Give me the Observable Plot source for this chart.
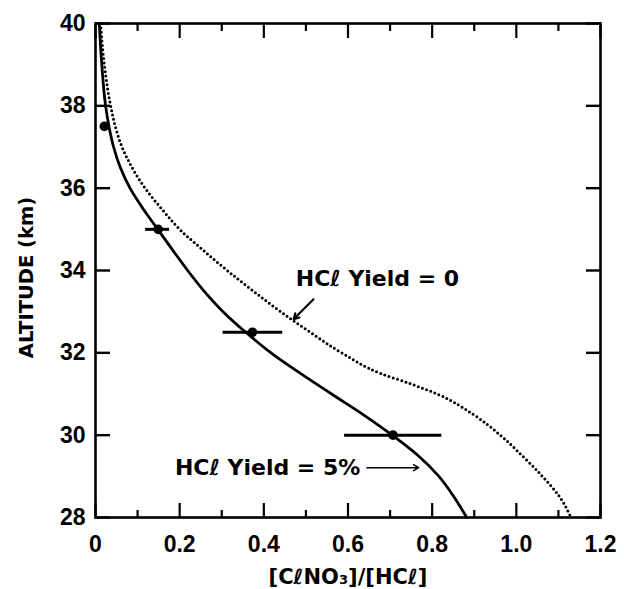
<!DOCTYPE html>
<html>
<head>
<meta charset="utf-8">
<script src="https://cdn.jsdelivr.net/npm/d3@7"></script>
<script src="https://cdn.jsdelivr.net/npm/@observablehq/plot@0.6"></script>
<style>
  html, body { margin: 0; padding: 0; background: #fff; }
  #chart svg { display: block; }
  g[aria-label="y-title"] text { letter-spacing: 1.4px; }
  g[aria-label="x-title"] text { letter-spacing: 0.6px; }
</style>
</head>
<body>
<div id="chart"></div>
<script>
// ---- Data ----
// Model curve, HCl yield = 5% (solid)
const yield5Alt   = [40, 39, 38, 37.5, 37, 36.5, 36, 35.5, 35, 34.5, 34, 33.5, 33, 32.5, 32, 31.5, 31, 30.5, 30, 29.5, 29, 28.5, 28];
const yield5Ratio = [0.009, 0.015, 0.024, 0.032, 0.043, 0.059, 0.082, 0.113, 0.148, 0.183, 0.219, 0.258, 0.303, 0.357, 0.417, 0.487, 0.561, 0.636, 0.705, 0.767, 0.816, 0.852, 0.882];
// Model curve, HCl yield = 0 (dotted)
const yield0Alt   = [40, 39, 38, 37.5, 37, 36.5, 36, 35.5, 35, 34.5, 34, 33.5, 33, 32.5, 32, 31.5, 31.25, 31, 30.5, 30, 29.5, 29, 28.5, 28];
const yield0Ratio = [0.012, 0.021, 0.036, 0.047, 0.063, 0.087, 0.118, 0.157, 0.2, 0.255, 0.313, 0.375, 0.44, 0.51, 0.585, 0.677, 0.748, 0.812, 0.898, 0.962, 1.014, 1.062, 1.103, 1.13];
// Measurements with error bars
const obsAlt   = [37.5, 35, 32.5, 30];
const obsRatio = [0.021, 0.149, 0.373, 0.707];
const obsLo    = [null, 0.119, 0.303, 0.592];
const obsHi    = [null, 0.176, 0.445, 0.823];
// Tick values
const xMajorTicks = [0, 0.2, 0.4, 0.6, 0.8, 1.0, 1.2];
const xMinorTicks = [0.1, 0.3, 0.5, 0.7, 0.9, 1.1];
const xTickLabels = ["0", "0.2", "0.4", "0.6", "0.8", "1.0", "1.2"];
const yTicks = [28, 30, 32, 34, 36, 38, 40];
// Annotations
const noteText = ["HCℓ Yield = 0", "HCℓ Yield = 5%"];
const noteX = [0.67, 0.409];
const noteY = [33.79, 29.21];
const arrowX1 = [0.518, 0.645];
const arrowY1 = [33.30, 29.21];
const arrowX2 = [0.471, 0.768];
const arrowY2 = [32.82, 29.21];
const arrowWidth = [2.2, 1.5];
const xTitle = "[CℓNO₃]/[HCℓ]";
const yTitle = "ALTITUDE (km)";

// ---- Build tables ----
const solid = yield5Alt.map((a, i) => ({alt: a, r: yield5Ratio[i]}));
const dotted = yield0Alt.map((a, i) => ({alt: a, r: yield0Ratio[i]}));
const obs = obsAlt.map((a, i) => ({alt: a, r: obsRatio[i], lo: obsLo[i], hi: obsHi[i]}));
const notes = noteText.map((t, i) => ({t, x: noteX[i], y: noteY[i]}));
const arrows = arrowX1.map((x1, i) => ({x1, y1: arrowY1[i], x2: arrowX2[i], y2: arrowY2[i], w: arrowWidth[i]}));

const tickFont = "'Liberation Sans', Arial, sans-serif";
const textFont = "'DejaVu Sans', sans-serif";

const chart = Plot.plot({
  width: 624,
  height: 589,
  marginLeft: 95,
  marginRight: 24,
  marginTop: 23,
  marginBottom: 72,
  style: {background: "white", color: "black"},
  x: {domain: [0, 1.2]},
  y: {domain: [28, 40]},
  marks: [
    // inward ticks
    Plot.axisX({anchor: "bottom", ticks: xMajorTicks, tickSize: -14, tickFormat: () => "", label: null, strokeWidth: 2.2}),
    Plot.axisX({anchor: "bottom", ticks: xMinorTicks, tickSize: -7, tickFormat: () => "", label: null, strokeWidth: 2.2}),
    Plot.axisX({anchor: "top", ticks: xMajorTicks, tickSize: -14, tickFormat: () => "", label: null, strokeWidth: 2.2}),
    Plot.axisX({anchor: "top", ticks: xMinorTicks, tickSize: -7, tickFormat: () => "", label: null, strokeWidth: 2.2}),
    Plot.axisY({anchor: "left", ticks: yTicks, tickSize: -15, tickFormat: () => "", label: null, strokeWidth: 2.4}),
    Plot.axisY({anchor: "right", ticks: yTicks, tickSize: -15, tickFormat: () => "", label: null, strokeWidth: 2.4}),
    // tick labels
    Plot.axisX({anchor: "bottom", ticks: xMajorTicks, tickSize: 0, tickPadding: 18, label: null,
      tickFormat: (d) => xTickLabels[xMajorTicks.findIndex(v => Math.abs(v - d) < 1e-9)],
      fontSize: 23, fontWeight: "bold", fontFamily: tickFont}),
    Plot.axisY({anchor: "left", ticks: yTicks, tickSize: 0, tickPadding: 10, label: null,
      tickFormat: (d) => String(d),
      fontSize: 23, fontWeight: "bold", fontFamily: tickFont}),
    // frame
    Plot.frame({strokeWidth: 2.6}),
    // curves
    Plot.line(dotted, {x: "r", y: "alt", curve: "monotone-y", strokeWidth: 3, strokeDasharray: "0 4.4", strokeLinecap: "round"}),
    Plot.line(solid, {x: "r", y: "alt", curve: "monotone-y", strokeWidth: 2.8}),
    // observations
    Plot.ruleY(obs.filter(d => d.lo != null), {y: "alt", x1: "lo", x2: "hi", strokeWidth: 3}),
    Plot.dot(obs, {x: "r", y: "alt", r: 4.8, fill: "black", stroke: "none"}),
    // annotations
    Plot.text(notes, {x: "x", y: "y", text: "t", fontSize: 22, fontWeight: "bold", fontFamily: textFont, fill: "black"}),
    Plot.arrow(arrows, {x1: "x1", y1: "y1", x2: "x2", y2: "y2", strokeWidth: "w", headLength: 9, stroke: "black"}),
    // axis titles
    Plot.text([yTitle], {text: d => d, frameAnchor: "left", textAnchor: "middle", lineAnchor: "middle", rotate: -90, dx: -69, dy: 7,
      fontSize: 19.5, fontWeight: "bold", fontFamily: textFont, fill: "black", ariaLabel: "y-title"}),
    Plot.text([xTitle], {text: d => d, frameAnchor: "bottom", textAnchor: "middle", lineAnchor: "middle", dy: 60,
      fontSize: 21, fontWeight: "bold", fontFamily: textFont, fill: "black", ariaLabel: "x-title"})
  ]
});
document.getElementById("chart").appendChild(chart);
</script>
</body>
</html>
